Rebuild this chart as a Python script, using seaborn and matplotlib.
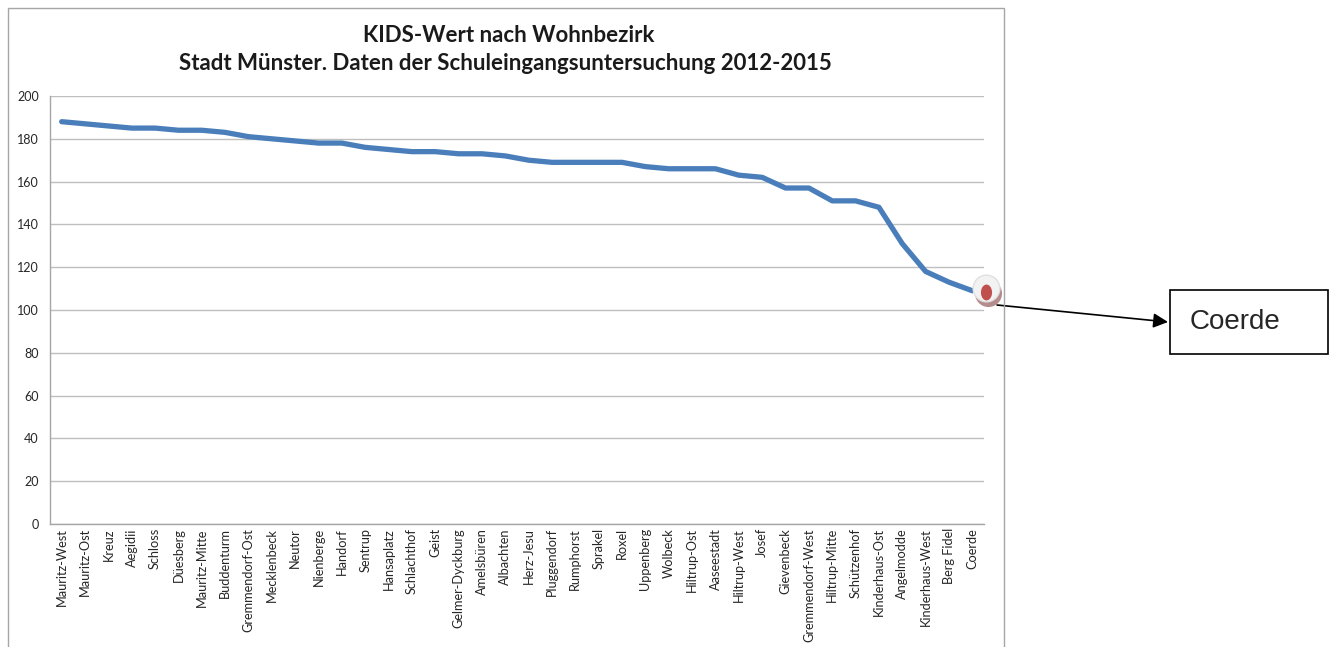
import numpy as np
import pandas as pd
import matplotlib
matplotlib.use('Agg')
import matplotlib.pyplot as plt
import matplotlib.transforms as mtransforms
from matplotlib.patches import Rectangle
from matplotlib.path import Path
import seaborn as sns

sns.set_style('white')
plt.rcParams['font.family'] = ['Lato', 'DejaVu Sans']

# Districts, sorted by KIDS value
bezirke = ['Mauritz-West', 'Mauritz-Ost', 'Kreuz', 'Aegidii', 'Schloss', 'Düesberg',
           'Mauritz-Mitte', 'Buddenturm', 'Gremmendorf-Ost', 'Mecklenbeck', 'Neutor',
           'Nienberge', 'Handorf', 'Sentrup', 'Hansaplatz', 'Schlachthof', 'Geist',
           'Gelmer-Dyckburg', 'Amelsbüren', 'Albachten', 'Herz-Jesu', 'Pluggendorf',
           'Rumphorst', 'Sprakel', 'Roxel', 'Uppenberg', 'Wolbeck', 'Hiltrup-Ost',
           'Aaseestadt', 'Hiltrup-West', 'Josef', 'Gievenbeck', 'Gremmendorf-West',
           'Hiltrup-Mitte', 'Schützenhof', 'Kinderhaus-Ost', 'Angelmodde',
           'Kinderhaus-West', 'Berg Fidel', 'Coerde']
kids_wert = [188, 187, 186, 185, 185, 184, 184, 183, 181, 180, 179, 178, 178, 176,
             175, 174, 174, 173, 173, 172, 170, 169, 169, 169, 169, 167, 166, 166,
             166, 163, 162, 157, 157, 151, 151, 148, 131, 118, 113, 109]
y_ticks = [0, 20, 40, 60, 80, 100, 120, 140, 160, 180, 200]
highlight = 'Coerde'

df = pd.DataFrame({'bezirk': bezirke, 'wert': kids_wert})
df['pos'] = np.arange(len(df))

W, H = 1336, 647
fig = plt.figure(figsize=(W / 100, H / 100), dpi=100)
ax = fig.add_axes([50 / W, 1 - 524 / H, (984 - 50) / W, (524 - 96) / H])

# chart border like the Excel chart frame
fig.add_artist(Rectangle((8 / W, -0.05), (1004 - 8) / W, 1.05 - 8 / H,
                         transform=fig.transFigure, fill=False,
                         edgecolor='#A6A6A6', linewidth=1.0))

sns.lineplot(data=df, x='pos', y='wert', ax=ax, color='#4A7EBB', linewidth=3.8,
             solid_capstyle='round', solid_joinstyle='round')

# highlighted end point (drawn slightly to the right, like the overlay in the original)
hl = df[df['bezirk'] == highlight]
t = np.linspace(0, 2 * np.pi, 60)
ellipse = Path(np.column_stack([0.7 * np.cos(t), np.sin(t)]), closed=True)
off = mtransforms.offset_copy(ax.transData, fig=fig, x=14, y=3, units='dots')
shadow = mtransforms.offset_copy(ax.transData, fig=fig, x=16, y=-2, units='dots')
dot = mtransforms.offset_copy(ax.transData, fig=fig, x=14, y=-1, units='dots')
ax.scatter(hl['pos'], hl['wert'], s=380, color='#B48C8C', transform=shadow, zorder=5,
           clip_on=False, linewidths=0)
ax.scatter(hl['pos'], hl['wert'], s=370, color='#F2F2F2', edgecolor='#E0E0E0',
           linewidths=1.0, transform=off, zorder=6, clip_on=False)
ax.scatter(hl['pos'], hl['wert'], s=130, color='#C0504D', marker=ellipse, transform=dot,
           zorder=7, clip_on=False, linewidths=0)

ax.set_xlim(-0.5, len(df) - 0.5)
ax.set_ylim(0, 200)
ax.set_yticks(y_ticks)
ax.set_xticks(df['pos'])
ax.set_xticklabels(df['bezirk'], rotation=90, fontsize=9.2)
ax.set_xticks(np.arange(len(df) + 1) - 0.5, minor=True)
ax.tick_params(axis='x', which='major', length=0, pad=3)
ax.tick_params(axis='x', which='minor', length=4, color='#A6A6A6', width=1, direction='out')
ax.tick_params(axis='y', length=5, color='#A6A6A6', width=1, direction='out',
               labelsize=9, pad=3)
ax.yaxis.grid(True, color='#BFBFBF', linewidth=1)
ax.set_axisbelow(True)
for side in ['top', 'right']:
    ax.spines[side].set_visible(False)
for side in ['left', 'bottom']:
    ax.spines[side].set_color('#A6A6A6')
    ax.spines[side].set_linewidth(1)
ax.set_xlabel('')
ax.set_ylabel('')

fig.text(509 / W, 1 - 35 / H, 'KIDS-Wert nach Wohnbezirk', ha='center', va='center',
         fontsize=16, fontweight='bold', color='#1a1a1a')
fig.text(505 / W, 1 - 64 / H, 'Stadt Münster. Daten der Schuleingangsuntersuchung 2012-2015',
         ha='center', va='center', fontsize=16, fontweight='bold', color='#1a1a1a')

# callout box with arrow
fig.add_artist(Rectangle((1170 / W, 1 - 354 / H), (1328 - 1170) / W, (354 - 290) / H,
                         transform=fig.transFigure, fill=True, facecolor='white',
                         edgecolor='black', linewidth=1.2))
fig.text(1190 / W, 1 - 322 / H, highlight, ha='left', va='center', fontsize=20,
         family=['Liberation Sans', 'DejaVu Sans'])
ax.annotate('', xy=(1168, H - 322), xycoords='figure pixels',
            xytext=(997, H - 305), textcoords='figure pixels',
            arrowprops=dict(arrowstyle='-|>', color='black', lw=1.2, mutation_scale=22,
                            shrinkA=0, shrinkB=0))

fig.savefig('out.png', dpi=100)
